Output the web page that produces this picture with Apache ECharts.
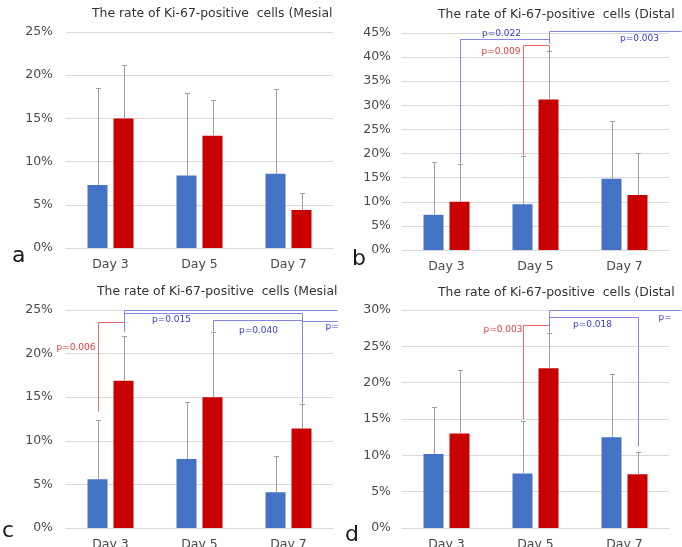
<!DOCTYPE html>
<html>
<head>
<meta charset="utf-8">
<script src="https://cdn.jsdelivr.net/npm/echarts@6/dist/echarts.min.js"></script>
<style>html,body{margin:0;padding:0;background:#fff}#c{width:682px;height:547px}</style>
</head>
<body>
<div id="c"></div>
<script>
// ---------- data ----------
const DAYS = ['Day 3', 'Day 5', 'Day 7'];

const TITLE_A = 'The rate of Ki-67-positive  cells (Mesial';
const TITLE_B = 'The rate of Ki-67-positive  cells (Distal';
const TITLE_C = 'The rate of Ki-67-positive  cells (Mesial';
const TITLE_D = 'The rate of Ki-67-positive  cells (Distal';

const A_TICKS = [0, 5, 10, 15, 20, 25];
const B_TICKS = [0, 5, 10, 15, 20, 25, 30, 35, 40, 45];
const C_TICKS = [0, 5, 10, 15, 20, 25];
const D_TICKS = [0, 5, 10, 15, 20, 25, 30];

const A_BLUE = [7.3, 8.4, 8.6];
const A_BLUE_HI = [18.5, 17.9, 18.4];
const A_RED = [15.0, 13.0, 4.4];
const A_RED_HI = [21.2, 17.1, 6.4];

const B_BLUE = [7.3, 9.5, 14.8];
const B_BLUE_HI = [18.2, 19.5, 26.7];
const B_RED = [10.0, 31.2, 11.4];
const B_RED_HI = [17.9, 41.3, 20.1];

const C_BLUE = [5.6, 7.9, 4.1];
const C_BLUE_HI = [12.4, 14.4, 8.2];
const C_RED = [16.9, 15.0, 11.4];
const C_RED_HI = [22.0, 22.5, 14.2];

const D_BLUE = [10.2, 7.5, 12.5];
const D_BLUE_HI = [16.7, 14.7, 21.2];
const D_RED = [13.0, 22.0, 7.4];
const D_RED_HI = [21.7, 26.9, 10.5];

// significance brackets: points are [category, bar (-1 blue / +1 red / 0 none), value %]
const A_BRACKETS = [];
const B_BRACKETS = [
  { kind: 'blue', pts: [[0, 1, 18.0], [0, 1, 43.8], [1, 1, 43.8], [1, 1, 43.0]], text: 'p=0.022', at: [0.61, 45.0], align: 'center' },
  { kind: 'blue', pts: [[1, 1, 43.0], [1, 1, 45.4], [2.64, 0, 45.4]], text: 'p=0.003', at: [2.16, 44.0], align: 'center' },
  { kind: 'red', pts: [[1, -1, 19.6], [1, -1, 42.6], [1, 1, 42.6], [1, 1, 41.3]], text: 'p=0.009', at: [0.83, 41.2], align: 'right' }
];
const C_BRACKETS = [
  { kind: 'red', pts: [[0, -1, 13.4], [0, -1, 23.6], [0, 1, 23.6], [0, 1, 22.6]], text: 'p=0.006', at: [-0.17, 20.7], align: 'right' },
  { kind: 'blue', pts: [[0, 1, 22.6], [0, 1, 25.0], [2.55, 0, 25.0]], text: '', at: [0, 0], align: 'left' },
  { kind: 'blue', pts: [[0, 1, 22.6], [0, 1, 24.6], [2, 1, 24.6], [2, 1, 14.3]], text: 'p=0.015', at: [0.68, 24.0], align: 'center' },
  { kind: 'blue', pts: [[1, 1, 22.6], [1, 1, 23.9], [2, 1, 23.9]], text: 'p=0.040', at: [1.66, 22.7], align: 'center' },
  { kind: 'blue', pts: [[2, 1, 23.7], [2.55, 0, 23.7]], text: 'p=', at: [2.41, 23.2], align: 'left' }
];
const D_BRACKETS = [
  { kind: 'red', pts: [[1, -1, 15.0], [1, -1, 27.9], [1, 1, 27.9], [1, 1, 27.0]], text: 'p=0.003', at: [0.845, 27.4], align: 'right' },
  { kind: 'blue', pts: [[1, 1, 27.2], [1, 1, 30.0], [2.64, 0, 30.0]], text: 'p=', at: [2.38, 29.0], align: 'left' },
  { kind: 'blue', pts: [[1, 1, 27.2], [1, 1, 29.0], [2, 1, 29.0], [2, 1, 11.3]], text: 'p=0.018', at: [1.64, 28.1], align: 'center' }
];

// ---------- styles / layout ----------
const FONT = '"DejaVu Sans", sans-serif';
const BLUE = '#4472C4', RED = '#C80000';
const GRID_COLOR = '#d9d9d9', LABEL_COLOR = '#4a4a4a', TITLE_COLOR = '#333333';
const ERR_COLOR = '#a0a0a0';
const BR = { blue: { line: '#8585e6', text: '#3b3bd0' }, red: { line: '#ec6a6a', text: '#e23a3a' } };
const BAR_W = 20, BAR_GAP = 0.3, BAR_OFF = BAR_W * (1 + BAR_GAP) / 2;

const panels = [
  { title: TITLE_A, ticks: A_TICKS, blue: A_BLUE, blueHi: A_BLUE_HI, red: A_RED, redHi: A_RED_HI, brackets: A_BRACKETS,
    grid: { left: 66, top: 32, width: 267, height: 216 }, tpos: { left: 92, top: 8, w: 248 }, letter: 'a', lpos: [12, 256], ymargin: 13 },
  { title: TITLE_B, ticks: B_TICKS, blue: B_BLUE, blueHi: B_BLUE_HI, red: B_RED, redHi: B_RED_HI, brackets: B_BRACKETS,
    grid: { left: 402, top: 33, width: 267, height: 217 }, tpos: { left: 438, top: 9, w: 300 }, letter: 'b', lpos: [352, 259], ymargin: 11 },
  { title: TITLE_C, ticks: C_TICKS, blue: C_BLUE, blueHi: C_BLUE_HI, red: C_RED, redHi: C_RED_HI, brackets: C_BRACKETS,
    grid: { left: 66, top: 310, width: 267, height: 218 }, tpos: { left: 97, top: 286, w: 248 }, letter: 'c', lpos: [2, 531], ymargin: 13 },
  { title: TITLE_D, ticks: D_TICKS, blue: D_BLUE, blueHi: D_BLUE_HI, red: D_RED, redHi: D_RED_HI, brackets: D_BRACKETS,
    grid: { left: 402, top: 310, width: 267, height: 218 }, tpos: { left: 438, top: 287, w: 300 }, letter: 'd', lpos: [345, 535], ymargin: 11 }
];

function errorSeries(gi, lows, highs, side) {
  return {
    type: 'custom', xAxisIndex: gi, yAxisIndex: gi, z: 3, silent: true,
    data: DAYS.map((d, i) => [i, lows[i], highs[i]]),
    encode: { x: 0, y: 2 },
    renderItem(params, api) {
      const x = Math.round(api.coord([api.value(0), 0])[0] + side * BAR_OFF) + 0.5;
      const y0 = api.coord([0, api.value(1)])[1];
      const y1 = Math.round(api.coord([0, api.value(2)])[1]) + 0.5;
      return { type: 'group', children: [
        { type: 'line', shape: { x1: x, y1: y0, x2: x, y2: y1 }, style: { stroke: ERR_COLOR, lineWidth: 1 } },
        { type: 'line', shape: { x1: x - 2.5, y1: y1, x2: x + 2.5, y2: y1 }, style: { stroke: ERR_COLOR, lineWidth: 1 } }
      ] };
    }
  };
}

function bracketSeries(gi, brackets) {
  return {
    type: 'custom', xAxisIndex: gi, yAxisIndex: gi, z: 4, silent: true, clip: false,
    data: brackets.map((b, i) => [i, 0]),
    encode: { x: 0, y: 1 },
    renderItem(params, api) {
      const b = brackets[params.dataIndex];
      const col = BR[b.kind];
      const base = api.coord([0, 0]);
      const band = api.size([1, 0])[0];
      const toPx = (p) => [Math.round(base[0] + p[0] * band + p[1] * BAR_OFF) + 0.5, Math.round(api.coord([0, p[2]])[1]) + 0.5];
      const children = [{ type: 'polyline', shape: { points: b.pts.map(toPx) }, style: { stroke: col.line, lineWidth: 1, fill: null } }];
      if (b.text) {
        const lp = toPx([b.at[0], 0, b.at[1]]);
        children.push({ type: 'text', x: lp[0], y: lp[1], style: { text: b.text, fill: col.text, font: '9px ' + FONT, align: b.align, verticalAlign: 'middle' } });
      }
      return { type: 'group', children };
    }
  };
}

const option = {
  backgroundColor: '#ffffff',
  animation: false,
  title: panels.map(p => ({
    text: p.title, left: p.tpos.left, top: p.tpos.top, padding: 0,
    textStyle: { fontSize: 12.4, fontWeight: 'normal', color: TITLE_COLOR, fontFamily: FONT, width: p.tpos.w, overflow: 'truncate', ellipsis: '' }
  })),
  grid: panels.map(p => Object.assign({ containLabel: false, outerBoundsMode: 'none' }, p.grid)),
  xAxis: panels.map((p, i) => ({
    type: 'category', gridIndex: i, data: DAYS,
    axisTick: { show: false },
    axisLine: { lineStyle: { color: GRID_COLOR, width: 1 } },
    axisLabel: { color: LABEL_COLOR, fontSize: 12.5, fontFamily: FONT, margin: 10 }
  })),
  yAxis: panels.map((p, i) => ({
    type: 'value', gridIndex: i,
    min: p.ticks[0], max: p.ticks[p.ticks.length - 1], interval: p.ticks[1] - p.ticks[0],
    axisLine: { show: false }, axisTick: { show: false },
    splitLine: { lineStyle: { color: GRID_COLOR, width: 1 } },
    axisLabel: { formatter: '{value}%', color: LABEL_COLOR, fontSize: 12.5, fontFamily: FONT, margin: p.ymargin }
  })),
  series: panels.flatMap((p, i) => [
    { type: 'bar', xAxisIndex: i, yAxisIndex: i, data: p.blue, barWidth: BAR_W, barGap: (BAR_GAP * 100) + '%', itemStyle: { color: BLUE }, silent: true, z: 2 },
    { type: 'bar', xAxisIndex: i, yAxisIndex: i, data: p.red, barWidth: BAR_W, barGap: (BAR_GAP * 100) + '%', itemStyle: { color: RED }, silent: true, z: 2 },
    errorSeries(i, p.blue, p.blueHi, -1),
    errorSeries(i, p.red, p.redHi, 1),
    bracketSeries(i, p.brackets)
  ]),
  graphic: panels.map(p => ({
    type: 'text', x: p.lpos[0], y: p.lpos[1], silent: true,
    style: { text: p.letter, font: '22px ' + FONT, fill: '#1a1a1a', verticalAlign: 'middle', align: 'left' }
  }))
};

const chart = echarts.init(document.getElementById('c'), null, { renderer: 'canvas' });
chart.setOption(option);
</script>
</body>
</html>
